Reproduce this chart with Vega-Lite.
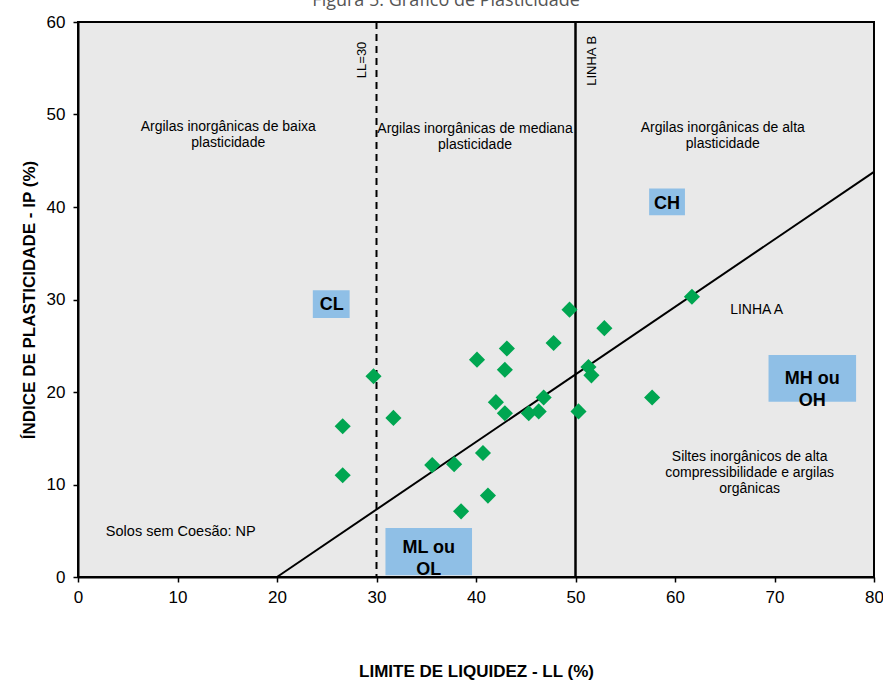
{
  "$schema": "https://vega.github.io/schema/vega-lite/v6.json",
  "width": 796,
  "height": 555,
  "autosize": {"type": "none"},
  "padding": {"left": 78, "top": 22, "right": 9, "bottom": 103},
  "background": "white",
  "config": {
    "view": {"fill": "#e9e9e9", "stroke": "black", "strokeWidth": 2},
    "axis": {
      "domainColor": "black", "domainWidth": 2, "tickColor": "black", "tickWidth": 1.5, "tickSize": 5,
      "grid": false, "labelColor": "black", "labelFont": "Liberation Sans, Arial, sans-serif", "titleColor": "black",
      "titleFont": "Liberation Sans, Arial, sans-serif", "titleFontWeight": "bold", "labelFlush": false, "labelOverlap": false
    }
  },
  "datasets": {
    "points": [
      {"ll": 49.4, "ip": 28.9}, {"ll": 52.9, "ip": 26.9}, {"ll": 43.1, "ip": 24.7}, {"ll": 47.8, "ip": 25.3},
      {"ll": 40.1, "ip": 23.5}, {"ll": 42.9, "ip": 22.4}, {"ll": 29.7, "ip": 21.7}, {"ll": 51.3, "ip": 22.7},
      {"ll": 51.6, "ip": 21.8}, {"ll": 46.8, "ip": 19.4}, {"ll": 57.7, "ip": 19.4}, {"ll": 42.0, "ip": 18.9},
      {"ll": 42.9, "ip": 17.7}, {"ll": 45.3, "ip": 17.7}, {"ll": 46.3, "ip": 17.9}, {"ll": 50.3, "ip": 17.9},
      {"ll": 31.7, "ip": 17.2}, {"ll": 26.6, "ip": 16.3}, {"ll": 40.7, "ip": 13.4}, {"ll": 35.6, "ip": 12.1},
      {"ll": 37.8, "ip": 12.2}, {"ll": 26.6, "ip": 11.0}, {"ll": 41.2, "ip": 8.8}, {"ll": 38.5, "ip": 7.1},
      {"ll": 61.7, "ip": 30.3}
    ],
    "lineA": [{"ll": 20, "ip": 0}, {"ll": 80, "ip": 43.8}],
    "boxes": [
      {"ll": 57.4, "ll2": 61.0, "ip": 39.1, "ip2": 42.0},
      {"ll": 23.6, "ll2": 27.3, "ip": 28.0, "ip2": 31.0},
      {"ll": 69.4, "ll2": 78.2, "ip": 18.95, "ip2": 24.0},
      {"ll": 30.9, "ll2": 39.6, "ip": 0.2, "ip2": 5.3}
    ],
    "boxLabels": [
      {"ll": 59.2, "ip": 40.3, "label": "CH"},
      {"ll": 25.5, "ip": 29.4, "label": "CL"},
      {"ll": 73.8, "ip": 21.4, "label": "MH ou\nOH"},
      {"ll": 35.25, "ip": 3.1, "label": "ML ou\nOL"}
    ],
    "zones": [
      {"ll": 15.1, "ip": 48.7, "label": "Argilas inorgânicas de baixa\nplasticidade"},
      {"ll": 39.9, "ip": 48.4, "label": "Argilas inorgânicas de  mediana\nplasticidade"},
      {"ll": 64.8, "ip": 48.5, "label": "Argilas inorgânicas de alta\nplasticidade"}
    ],
    "notes": [
      {"ll": 68.2, "ip": 28.9, "label": "LINHA A"},
      {"ll": 67.5, "ip": 13.0, "label": "Siltes inorgânicos de alta\ncompressibilidade e  argilas\norgânicas"}
    ],
    "rotated": [
      {"ll": 28.5, "ip": 55.9, "label": "LL=30"},
      {"ll": 51.7, "ip": 55.8, "label": "LINHA B"}
    ],
    "left": [{"ll": 2.8, "ip": 4.9, "label": "Solos sem Coesão: NP"}],
    "title": [{"ll": 37.0, "ip": 61.75, "label": "Figura 5: Gráfico de Plasticidade"}]
  },
  "layer": [
    {
      "data": {"name": "boxes"},
      "mark": {"type": "rect", "fill": "#8fbfe6"},
      "encoding": {
        "x": {"field": "ll", "type": "quantitative", "scale": {"domain": [0, 80], "nice": false},
          "axis": {"values": [0, 10, 20, 30, 40, 50, 60, 70, 80], "labelFontSize": 17, "labelPadding": 7,
            "title": "LIMITE DE LIQUIDEZ - LL (%)", "titleFontSize": 17, "titlePadding": 58}},
        "x2": {"field": "ll2"},
        "y": {"field": "ip", "type": "quantitative", "scale": {"domain": [0, 60], "nice": false},
          "axis": {"values": [0, 10, 20, 30, 40, 50, 60], "labelFontSize": 17, "labelPadding": 8,
            "title": "ÍNDICE DE PLASTICIDADE  - IP (%)", "titleFontSize": 17, "titlePadding": 8}},
        "y2": {"field": "ip2"}
      }
    },
    {
      "data": {"name": "lineA"},
      "mark": {"type": "line", "color": "black", "strokeWidth": 2},
      "encoding": {
        "x": {"field": "ll", "type": "quantitative"},
        "y": {"field": "ip", "type": "quantitative"}
      }
    },
    {
      "data": {"values": [{"ll": 30}]},
      "mark": {"type": "rule", "color": "black", "strokeWidth": 2, "strokeDash": [7, 5]},
      "encoding": {"x": {"field": "ll", "type": "quantitative"}}
    },
    {
      "data": {"values": [{"ll": 50}]},
      "mark": {"type": "rule", "color": "black", "strokeWidth": 2.5},
      "encoding": {"x": {"field": "ll", "type": "quantitative"}}
    },
    {
      "data": {"name": "points"},
      "mark": {"type": "point", "shape": "diamond", "filled": true, "color": "#00a651", "opacity": 1, "size": 260},
      "encoding": {
        "x": {"field": "ll", "type": "quantitative"},
        "y": {"field": "ip", "type": "quantitative"}
      }
    },
    {
      "data": {"name": "boxLabels"},
      "mark": {"type": "text", "font": "Liberation Sans, Arial, sans-serif", "fontSize": 18, "fontWeight": "bold", "color": "black", "lineBreak": "\n", "lineHeight": 22, "align": "center", "baseline": "middle"},
      "encoding": {
        "x": {"field": "ll", "type": "quantitative"},
        "y": {"field": "ip", "type": "quantitative"},
        "text": {"field": "label"}
      }
    },
    {
      "data": {"name": "zones"},
      "mark": {"type": "text", "font": "Liberation Sans, Arial, sans-serif", "fontSize": 14, "color": "black", "lineBreak": "\n", "lineHeight": 16, "align": "center", "baseline": "middle"},
      "encoding": {
        "x": {"field": "ll", "type": "quantitative"},
        "y": {"field": "ip", "type": "quantitative"},
        "text": {"field": "label"}
      }
    },
    {
      "data": {"name": "notes"},
      "mark": {"type": "text", "font": "Liberation Sans, Arial, sans-serif", "fontSize": 14, "color": "black", "lineBreak": "\n", "lineHeight": 16, "align": "center", "baseline": "middle"},
      "encoding": {
        "x": {"field": "ll", "type": "quantitative"},
        "y": {"field": "ip", "type": "quantitative"},
        "text": {"field": "label"}
      }
    },
    {
      "data": {"name": "left"},
      "mark": {"type": "text", "font": "Liberation Sans, Arial, sans-serif", "fontSize": 14.5, "color": "black", "align": "left", "baseline": "middle"},
      "encoding": {
        "x": {"field": "ll", "type": "quantitative"},
        "y": {"field": "ip", "type": "quantitative"},
        "text": {"field": "label"}
      }
    },
    {
      "data": {"name": "rotated"},
      "mark": {"type": "text", "font": "Liberation Sans, Arial, sans-serif", "fontSize": 13, "color": "black", "angle": 270, "align": "center", "baseline": "middle"},
      "encoding": {
        "x": {"field": "ll", "type": "quantitative"},
        "y": {"field": "ip", "type": "quantitative"},
        "text": {"field": "label"}
      }
    },
    {
      "data": {"name": "title"},
      "mark": {"type": "text", "font": "Open Sans", "fontSize": 18, "color": "#555555", "align": "center", "baseline": "alphabetic"},
      "encoding": {
        "x": {"field": "ll", "type": "quantitative"},
        "y": {"field": "ip", "type": "quantitative"},
        "text": {"field": "label"}
      }
    }
  ]
}
